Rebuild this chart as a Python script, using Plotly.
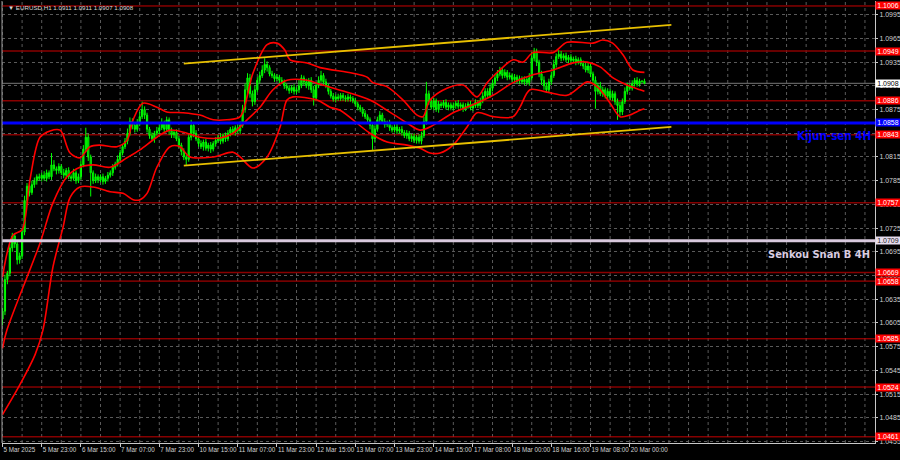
import plotly.graph_objects as go

# ---------------- data (prices in pips above 1.0000) ----------------
open_first = 610
close_pips = [
    620, 660, 668, 700, 715, 705, 685, 690, 720, 760,
    778, 770, 780, 785, 790, 788, 792, 788, 795, 790,
    805, 800, 798, 803, 795, 792, 798, 790, 788, 795,
    785, 790, 805, 825, 840, 815, 795, 785, 790, 786,
    790, 784, 788, 792, 795, 802, 806, 812, 820, 828,
    835, 845, 860, 855, 850, 858, 866, 875, 868, 850,
    842, 838, 845, 848, 852, 858, 850, 862, 848, 843,
    846, 838, 830, 822, 815, 812, 840, 855, 845, 838,
    832, 828, 834, 826, 830, 825, 832, 836, 840, 835,
    842, 838, 845, 850, 846, 852, 848, 855, 875, 900,
    915, 895, 885, 900, 912, 918, 925, 932, 928, 920,
    918, 914, 916, 912, 910, 905, 902, 899, 903, 898,
    900, 905, 915, 910, 905, 912, 900, 890, 905, 912,
    918, 910, 905, 898, 892, 888, 891, 889, 893, 890,
    888, 891, 889, 886, 882, 878, 875, 870, 866, 862,
    855, 838, 850, 862, 868, 860, 856, 858, 852, 849,
    853, 848, 850, 846, 842, 845, 838, 841, 836, 840,
    835, 842, 860, 895, 885, 878, 886, 875, 882, 880,
    884, 878, 881, 877, 880, 883, 879, 881, 876, 879,
    882, 877, 880, 884, 880, 886, 892, 898, 893, 902,
    908, 915, 920, 925, 918, 922, 916, 918, 913, 916,
    911, 914, 910, 913, 909, 915, 940, 948, 935, 920,
    912, 905, 900, 910, 918, 932, 942, 945, 940, 943,
    938, 941, 937, 939, 935, 938, 933, 930, 925, 930,
    920, 912, 898, 905, 895, 900, 892, 898, 890, 895,
    885, 880, 872, 885, 898, 905, 902, 908, 912, 907,
    911, 911, 908,
]
wick_up = [
    4, 6, 3, 5, 4, 3, 3, 4, 5, 6,
    4, 3, 5, 4, 3, 4, 3, 5, 4, 3,
    15, 6, 3, 4, 3, 5, 3, 4, 3, 5,
    3, 4, 5, 5, 12, 4, 3, 3, 4, 3,
    3, 4, 3, 4, 3, 4, 3, 5, 4, 3,
    4, 6, 5, 4, 3, 5, 6, 10, 4, 3,
    3, 4, 3, 5, 4, 6, 3, 4, 3, 4,
    3, 4, 3, 3, 4, 3, 5, 7, 3, 4,
    3, 4, 3, 4, 3, 4, 3, 4, 3, 5,
    3, 4, 4, 3, 4, 3, 4, 5, 6, 8,
    6, 5, 4, 5, 4, 5, 6, 8, 4, 3,
    4, 3, 4, 3, 4, 3, 3, 4, 3, 4,
    3, 8, 4, 3, 4, 3, 4, 5, 4, 5,
    6, 3, 4, 3, 3, 4, 3, 4, 3, 3,
    3, 4, 3, 3, 4, 3, 3, 3, 4, 3,
    3, 4, 5, 4, 5, 3, 4, 3, 4, 3,
    3, 4, 3, 4, 3, 4, 3, 3, 4, 3,
    4, 5, 6, 15, 4, 5, 4, 3, 4, 3,
    3, 4, 3, 3, 4, 3, 4, 3, 3, 4,
    3, 4, 3, 4, 3, 4, 5, 4, 4, 5,
    5, 4, 5, 4, 3, 4, 3, 4, 3, 4,
    3, 4, 3, 4, 3, 6, 8, 5, 4, 3,
    4, 5, 4, 4, 5, 6, 4, 5, 4, 3,
    4, 3, 4, 3, 4, 3, 3, 4, 4, 5,
    4, 3, 5, 4, 5, 4, 3, 4, 3, 4,
    3, 4, 5, 4, 5, 4, 3, 4, 3, 4,
    3, 0, 3,
]
wick_dn = [
    8, 5, 6, 4, 5, 5, 6, 5, 4, 4,
    4, 5, 3, 4, 5, 3, 4, 3, 4, 3,
    4, 3, 5, 4, 3, 4, 5, 3, 4, 3,
    4, 3, 4, 3, 4, 5, 30, 4, 3, 4,
    3, 4, 3, 4, 3, 4, 3, 3, 4, 3,
    3, 4, 3, 5, 4, 3, 4, 3, 5, 4,
    4, 3, 5, 3, 4, 3, 4, 3, 5, 4,
    4, 3, 4, 5, 4, 7, 3, 4, 5, 3,
    4, 3, 5, 3, 4, 5, 3, 4, 3, 4,
    3, 4, 3, 4, 3, 4, 3, 4, 3, 4,
    4, 5, 6, 4, 3, 4, 3, 4, 5, 3,
    3, 4, 3, 4, 3, 4, 3, 4, 3, 4,
    3, 4, 3, 4, 3, 5, 4, 10, 4, 3,
    3, 4, 3, 4, 3, 3, 4, 3, 3, 4,
    3, 3, 4, 3, 3, 4, 3, 4, 3, 4,
    5, 14, 4, 3, 4, 3, 4, 3, 4, 3,
    3, 4, 3, 4, 3, 4, 3, 4, 3, 4,
    3, 4, 3, 4, 4, 3, 4, 3, 4, 3,
    3, 3, 4, 3, 3, 4, 3, 3, 4, 3,
    3, 3, 4, 3, 3, 4, 3, 4, 3, 3,
    4, 3, 4, 3, 4, 3, 4, 3, 3, 4,
    3, 4, 3, 4, 3, 4, 3, 4, 5, 4,
    6, 5, 4, 3, 4, 3, 4, 3, 4, 3,
    3, 4, 3, 3, 4, 3, 3, 4, 3, 4,
    4, 5, 22, 4, 3, 4, 3, 4, 3, 4,
    4, 18, 5, 4, 3, 4, 3, 3, 4, 3,
    3, 2, 1,
]

# Bollinger bands (bar index, pips)
ub_bar = [0, 4.3, 8, 11.2, 15.3, 19.4, 23.5, 24.7, 27.6, 31.6, 35.7, 39.8, 46.7, 50.8, 53.3,
          57.3, 63, 67, 73.7, 80.6, 86, 91.6, 97, 102.2, 108, 112, 115.3, 117.3, 124.3, 129.6,
          143, 148.8, 151.2, 156.9, 163.5, 169.2, 171.6, 174.5, 181.4, 188, 193.7, 197.8, 203,
          208.4, 212.4, 216.5, 224.7, 230.4, 241, 245, 249, 253.3, 257.3, 262]
ub_pips = [663, 716, 723, 786, 840, 848, 849, 843, 820, 814, 828, 830, 828, 836, 862,
           883, 878, 872, 871, 868, 862, 862, 866, 921, 957, 959, 950, 938, 934, 928,
           921, 916, 909, 904, 887, 868, 866, 887, 902, 906, 891, 909, 925,
           938, 935, 947, 947, 960, 959, 963, 959, 944, 925, 922]
mb_bar = [0, 1.8, 15.3, 20.6, 26.3, 31.6, 37, 43.9, 50.8, 56.1, 63, 68.4, 75.3, 80.6, 88.8,
          94.1, 99.8, 105.1, 110.4, 116.1, 124.3, 129.6, 140.6, 150, 157, 165.1, 170.4, 175.7,
          183.9, 192, 200.2, 208.4, 216.5, 224.7, 232.9, 238.6, 243.9, 249.2, 254.9, 260.2, 262]
mb_pips = [573, 596, 706, 757, 790, 802, 805, 802, 814, 824, 840, 849, 845, 840, 839,
           845, 862, 878, 900, 912, 912, 907, 897, 887, 874, 858, 849, 855,
           871, 881, 893, 909, 919, 925, 934, 935, 929, 915, 906, 900, 898]
lb_bar = [0, 7.1, 13.3, 16.5, 20.6, 24.7, 27.6, 31.6, 37, 43.9, 49.2, 53.3, 56.1, 59, 63,
          68.4, 72.4, 76.5, 86, 94.1, 97, 102.2, 108, 113.3, 116.1, 118.6, 128.4, 133.7, 137.8,
          150, 157, 165.1, 170.4, 174.5, 178.6, 183.9, 189.6, 193.7, 200.2, 208.4, 211.2, 215.3,
          222.2, 230.4, 235.7, 238.6, 242.7, 248, 252, 256, 260.2, 262]
lb_pips = [489, 527, 565, 596, 676, 726, 764, 777, 777, 771, 769, 761, 761, 769, 802,
           828, 828, 815, 815, 821, 815, 801, 815, 853, 887, 891, 887, 878, 874,
           845, 834, 830, 826, 820, 820, 830, 853, 871, 866, 866, 878, 900,
           897, 893, 904, 910, 904, 883, 866, 868, 874, 876]

# channel (yellow) trend lines
chan_bar = [74, 273]
chan_upper = [1.0933, 1.0982]
chan_lower = [1.0804, 1.0853]

# horizontal levels
red_levels = [1.1006, 1.0949, 1.0886, 1.0843, 1.0757, 1.0669, 1.0658, 1.0585, 1.0524, 1.0461]
dark_levels = [1.0949, 1.0886, 1.0669]
kijun_level = 1.0858
senkou_level = 1.0709
last_price = 1.0908

# axis labels
time_ticks = [0, 16, 32, 48, 64, 80, 96, 112, 128, 144, 160, 176, 192, 208, 224, 240, 256]
time_labels = ["5 Mar 2025", "5 Mar 23:00", "6 Mar 15:00", "7 Mar 07:00", "7 Mar 23:00",
               "10 Mar 15:00", "11 Mar 07:00", "11 Mar 23:00", "12 Mar 15:00", "13 Mar 07:00",
               "13 Mar 23:00", "14 Mar 15:00", "17 Mar 08:00", "18 Mar 00:00", "18 Mar 16:00",
               "19 Mar 08:00", "20 Mar 00:00"]
price_ticks = [1.0455, 1.0485, 1.0515, 1.0545, 1.0575, 1.0605, 1.0635, 1.0665, 1.0695, 1.0725,
               1.0755, 1.0785, 1.0815, 1.0845, 1.0875, 1.0905, 1.0935, 1.0965, 1.0995]
grid_bars = list(range(0, 357, 8))
title_text = "\u25bc EURUSD,H1 1.0911 1.0911 1.0907 1.0908"

# ---------------- build ----------------
P = lambda v: 1 + v / 10000.0
n = len(close_pips)
bars = list(range(n))
opens = [open_first] + close_pips[:-1]
o = [P(v) for v in opens]
c = [P(v) for v in close_pips]
h = [P(max(a, b) + u) for a, b, u in zip(opens, close_pips, wick_up)]
l = [P(min(a, b) - d) for a, b, d in zip(opens, close_pips, wick_dn)]

fig = go.Figure()

fig.add_trace(go.Candlestick(
    x=bars, open=o, high=h, low=l, close=c,
    increasing=dict(line=dict(color="#00ff00", width=1), fillcolor="#00d000"),
    decreasing=dict(line=dict(color="#00ff00", width=1), fillcolor="#007a00"),
    whiskerwidth=0, hoverinfo="skip", showlegend=False,
))

for bx, by in ((ub_bar, ub_pips), (mb_bar, mb_pips), (lb_bar, lb_pips)):
    fig.add_trace(go.Scatter(x=bx, y=[P(v) for v in by], mode="lines",
                             line=dict(color="#ff0000", width=1.6, shape="spline", smoothing=0.9),
                             hoverinfo="skip", showlegend=False))

for cy in (chan_upper, chan_lower):
    fig.add_trace(go.Scatter(x=chan_bar, y=cy, mode="lines",
                             line=dict(color="#e8c000", width=1.8),
                             hoverinfo="skip", showlegend=False))

shapes = []
annots = []
for gb in grid_bars:
    shapes.append(dict(type="line", xref="x", x0=gb, x1=gb, yref="paper", y0=0, y1=1,
                       line=dict(color="#5a5a5a", width=1, dash="3px,3px"), layer="below"))

lab_font = dict(family="Liberation Sans, Arial, sans-serif", size=7)
for lv in red_levels:
    dark = lv in dark_levels
    shapes.append(dict(type="line", xref="paper", x0=0, x1=1, yref="y", y0=lv, y1=lv,
                       line=dict(color="#8a0000" if dark else "#c80000", width=1.5 if dark else 1),
                       layer="below"))
    annots.append(dict(xref="paper", x=1, xanchor="left", xshift=0, yref="y", y=lv,
                       text=f"{lv:.4f}", showarrow=False, bgcolor="#ff0000", width=24,
                       font=dict(color="#ffffff", **lab_font), borderpad=0))
shapes.append(dict(type="line", xref="paper", x0=0, x1=1, yref="y", y0=last_price, y1=last_price,
                   line=dict(color="#606060", width=1.2), layer="below"))
annots.append(dict(xref="paper", x=1, xanchor="left", xshift=0, yref="y", y=last_price,
                   text=f"{last_price:.4f}", showarrow=False, bgcolor="#ffffff", width=24,
                   font=dict(color="#000000", **lab_font), borderpad=0))
shapes.append(dict(type="line", xref="paper", x0=0, x1=1, yref="y", y0=kijun_level, y1=kijun_level,
                   line=dict(color="#0000ff", width=3), layer="above"))
annots.append(dict(xref="paper", x=1, xanchor="left", xshift=0, yref="y", y=kijun_level,
                   text=f"{kijun_level:.4f}", showarrow=False, bgcolor="#0000ff", width=24,
                   font=dict(color="#ffffff", **lab_font), borderpad=0))
shapes.append(dict(type="line", xref="paper", x0=0, x1=1, yref="y", y0=senkou_level, y1=senkou_level,
                   line=dict(color="#d8c8dc", width=3), layer="above"))
annots.append(dict(xref="paper", x=1, xanchor="left", xshift=0, yref="y", y=senkou_level,
                   text=f"{senkou_level:.4f}", showarrow=False, bgcolor="#e6dced", width=24,
                   font=dict(color="#202020", **lab_font), borderpad=0))

big_font = "DejaVu Sans Condensed, Liberation Sans Narrow, Arial Narrow, Liberation Sans, sans-serif"
annots.append(dict(xref="paper", x=1, xanchor="right", xshift=-2, yref="y", y=1.0842,
                   text="<b>Kijun-sen 4H</b>", showarrow=False,
                   font=dict(family=big_font, size=11.5, color="#0000ff")))
annots.append(dict(xref="paper", x=1, xanchor="right", xshift=-3, yref="y", y=1.0692,
                   text="<b>Senkou Snan B 4H</b>", showarrow=False,
                   font=dict(family=big_font, size=11, color="#d8cce0")))
annots.append(dict(xref="paper", x=0, xanchor="left", xshift=4, yref="paper", y=1, yanchor="top",
                   yshift=-1, text=title_text, showarrow=False,
                   font=dict(family="Liberation Sans, Arial, sans-serif", size=6.2, color="#d8d8d8")))

fig.update_layout(
    width=900, height=460,
    margin=dict(l=2, r=25, t=1, b=17, autoexpand=False),
    paper_bgcolor="#000000", plot_bgcolor="#000000",
    shapes=shapes, annotations=annots,
    showlegend=False,
    xaxis=dict(range=[-0.204, 356.1], tickvals=time_ticks, ticktext=time_labels,
               showgrid=False,
               zeroline=False, showline=True, linecolor="#c8c8c8", linewidth=1,
               mirror=False, ticks="outside", ticklen=3, tickcolor="#c8c8c8",
               ticklabelposition="outside right", tickangle=0, automargin=False,
               tickfont=dict(family="Liberation Sans, Arial, sans-serif", size=6.3, color="#d0d0d0"),
               rangeslider=dict(visible=False), fixedrange=True),
    yaxis=dict(range=[1.04532, 1.10123], side="right", tickvals=price_ticks,
               ticktext=[f"{v:.4f}" for v in price_ticks], automargin=False,
               showgrid=True, gridcolor="#5a5a5a", griddash="3px,3px", gridwidth=1,
               zeroline=False, showline=True, linecolor="#c8c8c8", linewidth=1,
               ticks="outside", ticklen=2, tickcolor="#c8c8c8",
               tickfont=dict(family="Liberation Sans, Arial, sans-serif", size=7, color="#d0d0d0"),
               fixedrange=True),
)
fig.add_shape(type="line", xref="paper", yref="paper", x0=0, x1=0, y0=0, y1=1,
              line=dict(color="#9a9a9a", width=1))

fig.write_html("out.html", config={"displayModeBar": False},
               post_script="document.body.style.margin='0px';document.body.style.overflow='hidden';document.body.style.background='#000';")
